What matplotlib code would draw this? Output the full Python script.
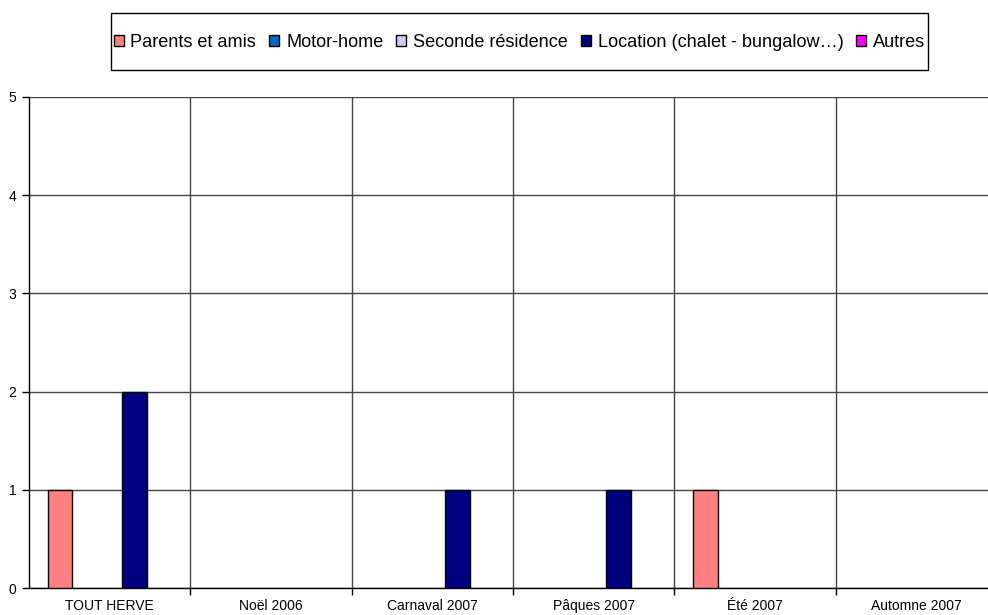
import matplotlib
matplotlib.use('Agg')
import matplotlib.pyplot as plt
from matplotlib.patches import Rectangle
import numpy as np

categories = ['TOUT HERVE', 'Noël 2006', 'Carnaval 2007', 'Pâques 2007', 'Été 2007', 'Automne 2007']
series_names = ['Parents et amis', 'Motor-home', 'Seconde résidence',
                'Location (chalet - bungalow…)', 'Autres']
parents = [1, 0, 0, 0, 1, 0]
motorhome = [0, 0, 0, 0, 0, 0]
seconde = [0, 0, 0, 0, 0, 0]
location = [2, 0, 1, 1, 0, 0]
autres = [0, 0, 0, 0, 0, 0]
colors = ['#FF8080', '#0066CC', '#CCCCFF', '#000080', '#FF00FF']

plt.rcParams['font.family'] = ['Liberation Sans', 'DejaVu Sans']

W, H = 988, 615
fig = plt.figure(figsize=(W/100, H/100), dpi=100)
ax = fig.add_axes([29/W, 1-588/H, 968/W, (588-97)/H])

x = np.arange(len(categories))
w = 0.1537
handles = []
for k, vals in enumerate([parents, motorhome, seconde, location, autres]):
    v = np.array(vals, dtype=float)
    # zero values are not drawn in the original
    v = np.where(v == 0, np.nan, v)
    b = ax.bar(x + (k-2)*w, v, width=w, color=colors[k], edgecolor='black',
               linewidth=1, label=series_names[k], zorder=3)
    handles.append(b)

ax.set_xlim(-0.5, len(categories)-0.5)
ax.set_ylim(0, 5)
ax.set_yticks(range(6))
ax.set_xticks(x)
ax.set_xticklabels(categories)
ax.set_xticks(np.arange(0.5, len(categories)-0.5, 1), minor=True)
ax.tick_params(axis='x', which='major', length=0, labelsize=10, pad=8)
ax.tick_params(axis='x', which='minor', length=5, width=1, color='black')
ax.tick_params(axis='y', length=5, width=1, labelsize=10, pad=4)
ax.grid(axis='y', color='#444444', linewidth=1, zorder=0)
ax.grid(axis='x', which='minor', color='#444444', linewidth=1, zorder=0)
for s in ['top', 'right']:
    ax.spines[s].set_visible(False)
ax.spines['left'].set_linewidth(1)
ax.spines['bottom'].set_linewidth(1)

# legend box drawn separately so its padding can differ in x and y
fig.patches.append(Rectangle((111/W, 1-70/H), (928-111)/W, 57/H,
                             transform=fig.transFigure, facecolor='white',
                             edgecolor='black', linewidth=1, zorder=1))
leg = fig.legend(handles=handles, loc='center', bbox_to_anchor=(519.5/W, 1-42.5/H),
                 ncol=5, fontsize=13.1, frameon=False,
                 handlelength=0.55, handleheight=0.55, handletextpad=0.38,
                 columnspacing=0.71, borderpad=0, borderaxespad=0)
leg.set_zorder(2)

plt.savefig('out.png', dpi=100)
plt.close()
